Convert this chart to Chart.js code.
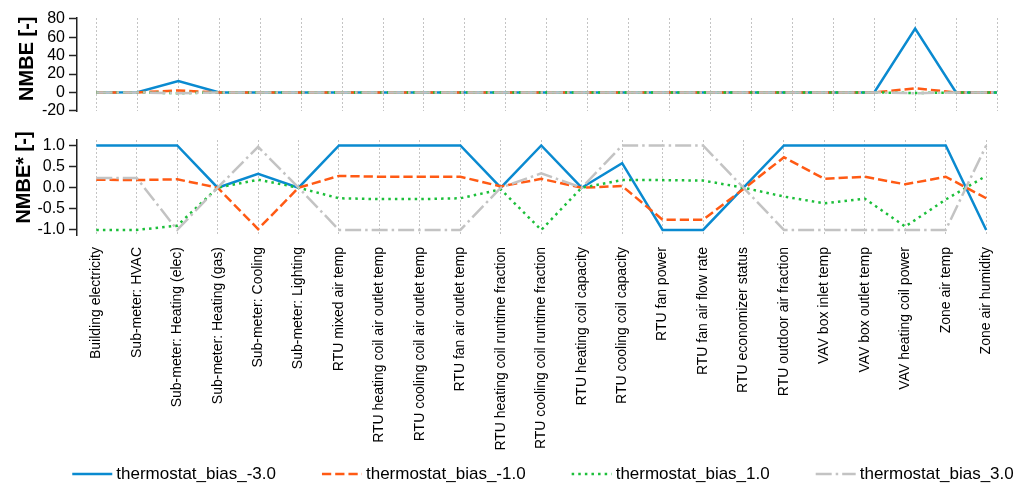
<!DOCTYPE html>
<html>
<head>
<meta charset="utf-8">
<script src="https://cdn.jsdelivr.net/npm/chart.js@4/dist/chart.umd.min.js"></script>
<style>
  html, body { margin: 0; padding: 0; background: #fff; overflow: hidden; }
  #wrap { position: relative; width: 1015px; height: 485px; }
  #nmbeChart { position: absolute; left: 0; top: 0; }
  #nmbeStarChart { position: absolute; left: 0; top: 125px; }
</style>
</head>
<body>
<div id="wrap">
  <canvas id="nmbeChart" width="1015" height="125"></canvas>
  <canvas id="nmbeStarChart" width="1015" height="360"></canvas>
</div>
<script>
// Output variables compared against the baseline model
const categories = [
  'Building electricity', 'Sub-meter: HVAC', 'Sub-meter: Heating (elec)',
  'Sub-meter: Heating (gas)', 'Sub-meter: Cooling', 'Sub-meter: Lighting',
  'RTU mixed air temp', 'RTU heating coil air outlet temp',
  'RTU cooling coil air outlet temp', 'RTU fan air outlet temp',
  'RTU heating coil runtime fraction', 'RTU cooling coil runtime fraction',
  'RTU heating coil capacity', 'RTU cooling coil capacity', 'RTU fan power',
  'RTU fan air flow rate', 'RTU economizer status', 'RTU outdoor air fraction',
  'VAV box inlet temp', 'VAV box outlet temp', 'VAV heating coil power',
  'Zone air temp', 'Zone air humidity'
];

const seriesNames = ['thermostat_bias_-3.0', 'thermostat_bias_-1.0', 'thermostat_bias_1.0', 'thermostat_bias_3.0'];

// NMBE [-]
const nmbeBiasM3 = [0, 0.3, 12.3, 0, 0, 0, 0, 0, 0, 0, 0, 0, 0, 0, 0, 0, 0, 0, 0, 0, 69.5, 0, 0];
const nmbeBiasM1 = [0, 0, 2.2, 0, 0, 0, 0, 0, 0, 0, 0, 0, 0, 0, 0, 0, 0, 0, 0, 0, 4.5, 0, 0];
const nmbeBiasP1 = [0, 0, -0.8, 0, 0, 0, 0, 0, 0, 0, 0, 0, 0, 0, 0, 0, 0, 0, 0, 0, -0.6, 0, 0];
const nmbeBiasP3 = [0, 0, -0.8, 0, 0, 0, 0, 0, 0, 0, 0, 0, 0, 0, 0, 0, 0, 0, 0, 0, -0.8, 0, 0];

// NMBE* [-]
const starBiasM3 = [1, 1, 1, 0, 0.33, 0, 1, 1, 1, 1, 0, 1, 0, 0.58, -1, -1, 0, 1, 1, 1, 1, 1, -1];
const starBiasM1 = [0.19, 0.18, 0.2, 0, -0.98, 0, 0.28, 0.26, 0.26, 0.26, 0.03, 0.21, 0, 0.04, -0.76, -0.76, -0.03, 0.72, 0.21, 0.26, 0.08, 0.26, -0.25];
const starBiasP1 = [-1, -1, -0.9, 0, 0.19, 0, -0.25, -0.27, -0.27, -0.25, -0.04, -1, 0, 0.18, 0.18, 0.17, 0, -0.21, -0.37, -0.26, -0.92, -0.28, 0.28];
const starBiasP3 = [0.23, 0.23, -1, 0, 0.97, 0, -1, -1, -1, -1, 0, 0.34, 0, 1, 1, 1, 0, -1, -1, -1, -1, -1, 1];

const nmbeTicks = [-20, 0, 20, 40, 60, 80];
const starTicks = [-1, -0.5, 0, 0.5, 1];

const FONT = "'Liberation Sans', Arial, sans-serif";
Chart.defaults.font.family = FONT;
Chart.defaults.color = '#000';

const styles = [
  { color: '#0a8ad0', dash: [], order: 3 },
  { color: '#ff5a14', dash: [9.25, 4], order: 2 },
  { color: '#1cbf3a', dash: [2.5, 4.1], order: 1 },
  { color: '#c3c3c3', dash: [16, 4, 2.5, 4], order: 0 }
];

function makeDatasets(seriesValues) {
  return seriesValues.map((vals, k) => ({
    label: seriesNames[k],
    data: vals.map((v, i) => ({ x: i, y: v })),
    borderColor: styles[k].color,
    backgroundColor: styles[k].color,
    borderDash: styles[k].dash,
    borderWidth: 2.5,
    borderCapStyle: 'butt',
    borderJoinStyle: 'miter',
    pointRadius: 0,
    pointHoverRadius: 0,
    tension: 0,
    fill: false,
    clip: false,
    order: styles[k].order
  }));
}

// Rotated y-axis title drawn beside the tick labels
const axisTitlePlugin = {
  id: 'axisTitle',
  afterDraw(chart, args, opts) {
    const ctx = chart.ctx;
    const area = chart.chartArea;
    ctx.save();
    ctx.font = 'bold 20px ' + FONT;
    ctx.fillStyle = '#000';
    ctx.textAlign = 'center';
    ctx.textBaseline = 'alphabetic';
    ctx.translate(opts.x, (area.top + area.bottom) / 2 + opts.shift);
    ctx.rotate(-Math.PI / 2);
    ctx.fillText(opts.text, 0, 0);
    ctx.restore();
  }
};

// One-row legend with line samples below the axis labels
const lineLegendPlugin = {
  id: 'lineLegend',
  afterDraw(chart, args, opts) {
    if (!opts.show) return;
    const ctx = chart.ctx;
    ctx.save();
    ctx.font = '17px ' + FONT;
    const items = chart.data.datasets;
    const widths = items.map(d => opts.sample + opts.gap + ctx.measureText(d.label).width);
    const total = widths.reduce((a, b) => a + b, 0) + opts.spacing * (items.length - 1);
    let x = opts.centerX - total / 2;
    const y = opts.y;
    items.forEach((d, k) => {
      ctx.beginPath();
      ctx.setLineDash(d.borderDash);
      ctx.lineCap = 'butt';
      ctx.lineWidth = d.borderWidth;
      ctx.strokeStyle = d.borderColor;
      ctx.moveTo(x, y);
      ctx.lineTo(x + opts.sample, y);
      ctx.stroke();
      ctx.setLineDash([]);
      ctx.fillStyle = '#000';
      ctx.textAlign = 'left';
      ctx.textBaseline = 'middle';
      ctx.fillText(d.label, x + opts.sample + opts.gap, y);
      x += widths[k] + opts.spacing;
    });
    ctx.restore();
  }
};

function buildOptions(cfg) {
  return {
    responsive: false,
    animation: false,
    events: [],
    layout: { padding: cfg.padding },
    plugins: {
      legend: { display: false },
      tooltip: { enabled: false },
      axisTitle: cfg.title,
      lineLegend: cfg.legend
    },
    scales: {
      x: {
        type: 'linear',
        min: -0.477,
        max: categories.length - 1,
        afterBuildTicks(scale) { scale.ticks = categories.map((_, i) => ({ value: i })); },
        afterFit(scale) { scale.height = cfg.xHeight; },
        grid: { display: true, color: '#c4c4c4', lineWidth: 1, drawTicks: false },
        border: { display: false, dash: [2, 2] },
        ticks: {
          display: cfg.showLabels,
          autoSkip: false,
          minRotation: 90,
          maxRotation: 90,
          padding: 12,
          font: { size: 14 },
          color: '#000',
          callback: v => categories[v]
        }
      },
      y: {
        min: cfg.yMin,
        max: cfg.yMax,
        afterBuildTicks(scale) { scale.ticks = cfg.yTicks.map(v => ({ value: v })); },
        afterFit(scale) { scale.width = 77; },
        grid: { drawOnChartArea: false, drawTicks: true, tickLength: 8, tickColor: '#222', tickWidth: 1.5, color: '#222' },
        border: { display: true, color: '#222', width: 1.5 },
        ticks: {
          autoSkip: false,
          padding: 4,
          font: { size: 16 },
          color: '#000',
          callback: cfg.tickFormat
        }
      }
    }
  };
}

new Chart(document.getElementById('nmbeChart'), {
  type: 'line',
  data: { datasets: makeDatasets([nmbeBiasM3, nmbeBiasM1, nmbeBiasP1, nmbeBiasP3]) },
  options: buildOptions({
    padding: { left: 0, right: 18, top: 18, bottom: 12 },
    xHeight: 0,
    showLabels: false,
    yMin: -20.6, yMax: 81,
    yTicks: nmbeTicks,
    tickFormat: v => String(v),
    title: { text: 'NMBE [-]', x: 33, shift: -6 },
    legend: { show: false }
  }),
  plugins: [axisTitlePlugin, lineLegendPlugin]
});

new Chart(document.getElementById('nmbeStarChart'), {
  type: 'line',
  data: { datasets: makeDatasets([starBiasM3, starBiasM1, starBiasP1, starBiasP3]) },
  options: buildOptions({
    padding: { left: 0, right: 18, top: 15, bottom: 20 },
    xHeight: 230,
    showLabels: true,
    yMin: -1.12, yMax: 1.13,
    yTicks: starTicks,
    tickFormat: v => v.toFixed(1),
    title: { text: 'NMBE* [-]', x: 29.5, shift: -10 },
    legend: { show: true, sample: 40, gap: 4, spacing: 46, centerX: 543, y: 349 }
  }),
  plugins: [axisTitlePlugin, lineLegendPlugin]
});
</script>
</body>
</html>
